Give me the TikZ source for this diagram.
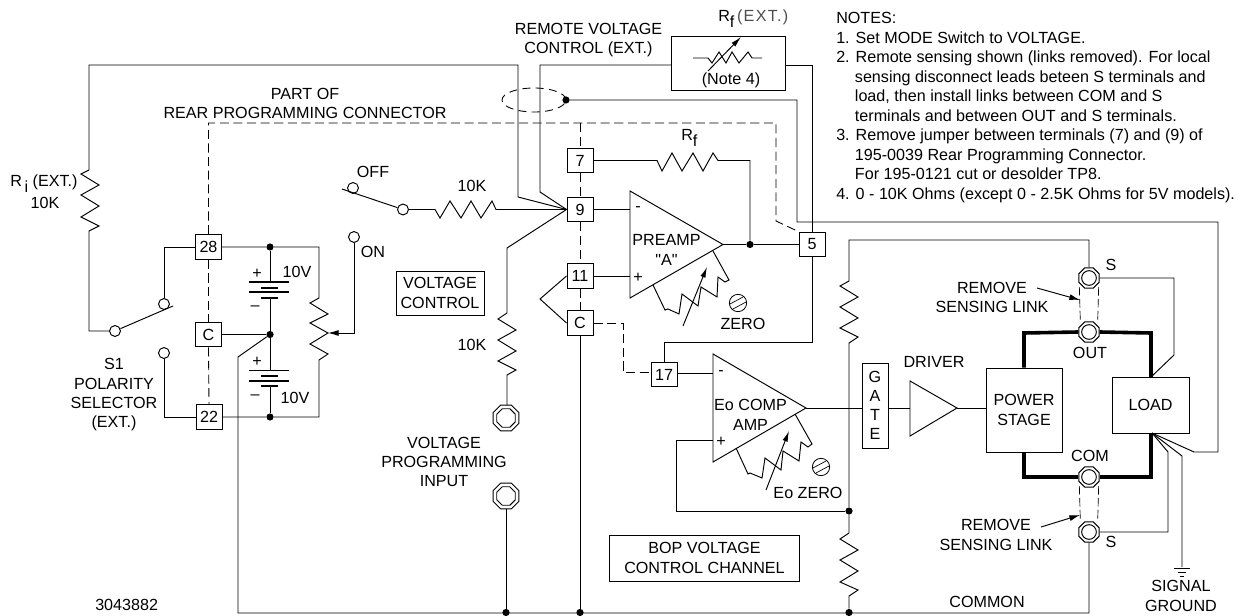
\documentclass[tikz,border=0pt]{standalone}
\usepackage{fontspec}
\setmainfont{Liberation Sans}
\newfontfamily\plainfont{Liberation Sans}
\usetikzlibrary{arrows.meta,shapes.geometric}
\tikzset{
 wire/.style={line width=.72pt,line join=miter},
 heavy/.style={line width=2.7pt,line join=miter},
 dashwire/.style={line width=.65pt,dash pattern=on 6.8pt off 3.4pt},
 dotj/.style={circle,fill=black,inner sep=0pt,minimum size=5.4pt},
 opencontact/.style={circle,draw,fill=white,line width=.72pt,inner sep=0pt,minimum size=8.2pt},
 tbox/.style={draw,fill=white,line width=.72pt,inner sep=0pt,minimum width=19.5pt,minimum height=18.6pt,align=center},
 lbox/.style={draw,fill=white,line width=.72pt,inner sep=0pt,align=center},
 lab/.style={inner sep=0pt,align=center},
 note/.style={inner sep=0pt,anchor=west,align=left},
 jackout/.style={regular polygon,regular polygon sides=8,draw,fill=white,line width=.72pt,inner sep=0pt,minimum size=21pt},
 jackin/.style={regular polygon,regular polygon sides=8,draw,line width=.72pt,inner sep=0pt,minimum size=15pt},
 termout/.style={regular polygon,regular polygon sides=8,draw,fill=white,line width=.72pt,inner sep=0pt,minimum size=16.5pt},
 termin/.style={circle,draw,line width=.72pt,inner sep=0pt,minimum size=11pt},
 screwhead/.style={circle,draw,line width=.6pt,inner sep=0pt,minimum size=13pt},
 ptr/.style={wire,-{Latex[length=8pt,width=4.5pt]}},
 ptrs/.style={wire,-{Latex[length=8pt,width=4pt]}},
}
\begin{document}
\begin{tikzpicture}[x=.75pt,y=-.75pt,font=\fontsize{12.1}{14.5}\selectfont]
\useasboundingbox (0,0) rectangle (1238,616);

% terminal boxes
\node[tbox] (b28) at (208.5,247) {28};
\node[tbox] (bC1) at (208.5,334.5) {C};
\node[tbox] (b22) at (209,417) {22};
\node[tbox] (b7) at (580,160.5) {7};
\node[tbox] (b9) at (580,209.5) {9};
\node[tbox] (b11) at (580,276) {11};
\node[tbox] (bC2) at (580,323) {C};
\node[tbox] (b17) at (664,374.5) {17};
\node[tbox] (b5) at (812,244.5) {5};

% blocks
\node[lbox,minimum width=85.5pt,minimum height=40.5pt] (rfx) at (728,63) {};
\node[lab] (rfxnote) at (731,80) {(Note 4)};
\node[lbox,minimum width=66pt,minimum height=33pt] (vc) at (440,293) {VOLTAGE\\CONTROL};
\node[lbox,minimum width=143pt,minimum height=34.5pt] (bop) at (704.5,558) {BOP VOLTAGE\\CONTROL CHANNEL};
\node[lbox,minimum width=19.5pt,minimum height=63.75pt] (gate) at (875,405.5) {G\\[-.3pt]A\\[-.3pt]T\\[-.3pt]E};
\node[lbox,minimum width=57pt,minimum height=63pt] (power) at (1024,410) {POWER\\STAGE};
\node[lbox,minimum width=57.75pt,minimum height=42pt] (load) at (1150.5,405) {LOAD};

% contacts, junctions
\node[opencontact] (swcom) at (115,331) {};
\node[opencontact] (swa) at (164,304) {};
\node[opencontact] (swb) at (164,353) {};
\node[opencontact] (offc) at (353,188) {};
\node[opencontact] (offp) at (403,209.5) {};
\node[opencontact] (onc) at (354,237) {};
\node[dotj] (d1) at (270,247) {};
\node[dotj] (d2) at (270,334.5) {};
\node[dotj] (d3) at (270,417) {};
\node[dotj] (d4) at (750,244.5) {};
\node[dotj] (d5) at (566,100) {};
\node[dotj] (d6) at (849,511) {};
\node[dotj] (d7) at (506,612.5) {};
\node[dotj] (d8) at (580,612.5) {};
\node[dotj] (d9) at (849,612.5) {};

% jacks and output terminals
\node[jackout] (j1) at (506,418) {}; \node[jackin] (j1i) at (506,418) {};
\node[jackout] (j2) at (506,496) {}; \node[jackin] (j2i) at (506,496) {};
\node[termout] (ts1) at (1089,278) {}; \node[termin] (ts1i) at (1089,278) {};
\node[termout] (tout) at (1089,332) {}; \node[termin] (touti) at (1089,332) {};
\node[termout] (tcom) at (1089,477) {}; \node[termin] (tcomi) at (1089,477) {};
\node[termout] (ts2) at (1089,532) {}; \node[termin] (ts2i) at (1089,532) {};

% screws
\node[screwhead] (scr1) at (738,303) {};
\node[screwhead] (scr2) at (821,467) {};
\draw[line width=.5pt] (scr1) ++(-8,1) -- ++(13,-7) (scr1) ++(-5,6) -- ++(13,-7);
\draw[line width=.5pt] (scr2) ++(-8,1) -- ++(13,-7) (scr2) ++(-5,6) -- ++(13,-7);

% free coordinates
\coordinate (pamin) at (630,209.5);
\coordinate (paplus) at (630,276);
\coordinate (paout) at (723,244.5);
\coordinate (eomin) at (713,373);
\coordinate (eoplus) at (713,440);
\coordinate (eoout) at (806,408);
\coordinate (drin) at (910,408);
\coordinate (drout) at (957,408);
\coordinate (rfl) at (671,65);
\coordinate (rfr) at (785,65);

% op amps and driver
\draw[wire] (630,191) -- (paout) -- (630,298) -- cycle;
\draw[wire] (713,354) -- (eoout) -- (713,462) -- cycle;
\draw[wire] (910,381) -- (drout) -- (910,436) -- cycle;

% Ri path
\draw[wire] (swcom.west) -- (89,331) -- (89,231) -- (99,226) -- (81,217) -- (99,206) -- (81,195) -- (99,185) -- (81,174) -- (89,170) -- (89,65) -- (518,65) -- (518,197) -- (b9.west);
% remote voltage path
\draw[wire] (rfl) -- (540,65) -- (540,192) -- (b9.west);
% rf ext internals
\draw[wire] (693,58) -- (708,58) -- (712,63) -- (719,52) -- (726,63) -- (732,52) -- (739,63) -- (748,52) -- (752,58) -- (762,58);
\coordinate (rfxa) at (708,71); \coordinate (rfxb) at (741,37);
\draw[ptrs] (rfxa) -- (rfxb);
\draw[wire] (rfr) -- (812,65) -- (b5.north);

% polarity switch
\draw[wire] (swcom) -- (173,306);
\draw[wire] (swa.north) -- (164,247) -- (b28.west);
\draw[wire] (swb.south) -- (164,417) -- (b22.west);

% batteries and pot
\draw[wire] (b28.east) -- (d1) -- (319,247) -- (319,298) -- (310,303) -- (328,314) -- (310,323) -- (328,333) -- (310,344) -- (328,354) -- (319,360) -- (319,417) -- (d3) -- (b22.east);
\draw[wire] (d1) -- (270,282);
\draw[wire] (270,298) -- (d2) -- (270,370);
\draw[wire] (270,386) -- (d3);
\draw[line width=1.05pt] (249,282) -- (289,282) (249,292) -- (289,292) (249,370.5) -- (289,370.5) (249,381) -- (289,381);
\draw[line width=1.7pt] (261,288) -- (278,288) (261,298) -- (278,298) (261,376) -- (278,376) (261,386) -- (278,386);
\draw[wire] (bC1.east) -- (d2);
\draw[wire] (d2) -- (238,357) -- (238,613) -- (1089,613) -- (ts2.south);
\draw[ptr] (onc.south) -- (354,333) -- (328,333);

% off switch and input resistor
\draw[wire] (342,189) -- (offp);
\draw[wire] (offp.east) -- (435,209.5) -- (440,218) -- (450,201) -- (461,218) -- (471,201) -- (481,218) -- (492,201) -- (496,209.5) -- (b9.west);
\draw[wire] (b9.west) -- (507,248) -- (507,313) -- (498,319) -- (516,330) -- (498,340) -- (516,351) -- (498,361) -- (516,370) -- (507,375) -- (507,405.5);
\draw[wire] (506,508.5) -- (d7);

% preamp
\draw[wire] (b7.east) -- (657,160.5) -- (662,171) -- (672,153) -- (682,171) -- (693,153) -- (703,171) -- (713,153) -- (718,160.5) -- (750,160.5) -- (d4);
\draw[wire] (b9.east) -- (pamin);
\draw[wire] (b11.east) -- (paplus);
\draw[wire] (paout) -- (d4) -- (b5.west);
\draw[wire] (713,251) -- (729,280) -- (725,282) -- (718,277) -- (717,297) -- (701,287) -- (698,306) -- (682,294) -- (679,314) -- (668,309) -- (665,310) -- (653,285);
\coordinate (pota) at (683,326); \coordinate (potb) at (707,267);
\draw[ptrs] (pota) -- (potb);
\draw[wire] (b11.west) -- (540,299) -- (bC2.west);
\draw[wire] (bC2.south) -- (d8);

% Eo amp
\draw[wire] (b5.south) -- (812,342) -- (664,342) -- (b17.north);
\draw[wire] (b17.east |- eomin) -- (eomin);
\draw[wire] (eoplus) -- (676,440) -- (676,511) -- (d6);
\draw[wire] (eoout) -- (eoout -| gate.west);
\draw[wire] (eoout -| gate.east) -- (drin);
\draw[wire] (drout) -- (drout -| power.west);
\draw[wire] (795,414) -- (812,444) -- (808,447) -- (801,442) -- (799,461) -- (783,451) -- (781,470) -- (765,458) -- (762,478) -- (750,473) -- (748,474) -- (736,448);
\coordinate (eoa) at (766,490); \coordinate (eob) at (789,431);
\draw[ptrs] (eoa) -- (eob);

% right chain
\draw[wire] (ts1.north) -- (1089,240) -- (849,240) -- (849,281) -- (840,286) -- (858,297) -- (840,307) -- (858,318) -- (840,328) -- (858,337) -- (849,343) -- (d6) -- (849,533) -- (840,539) -- (858,550) -- (840,560) -- (858,571) -- (840,582) -- (858,590) -- (849,596) -- (d9);

% heavy loop
\draw[heavy] (power.north) -- (1024,333) -- (tout.west);
\draw[heavy] (tout.east) -- (1151,333) -- (1151,377);
\draw[heavy] (power.south) -- (1024,477) -- (tcom.west);
\draw[heavy] (tcom.east) -- (1151,477) -- (1151,433);

% sensing
\draw[wire] (ts1.east) -- (1174,278) -- (1174,355) -- (1151,377);
\draw[wire] (ts2.east) -- (1168,532) -- (1168,452) -- (1152,433);
\coordinate (gnd) at (1182,567);
\draw[wire] (gnd) -- (1182,456) -- (1152,433);
\draw[wire] (d5) -- (797,100) -- (797,222) -- (1218,222) -- (1218,452) -- (1194,452) -- (1152,433);
\draw[line width=.65pt] (1174,568) -- (1190,568) (1178,572) -- (1186,572) (1180,576) -- (1184,576);

% dashed
\draw[dashwire] (b28.north) -- (208.5,123) -- (776,123) -- (776,221) -- (b5.north west);
\draw[dashwire] (b28.south) -- (bC1.north);
\draw[dashwire] (bC1.south) -- (b22.north);
\draw[dashwire] (580,123) -- (b7.north);
\draw[dashwire] (b7.south) -- (b9.north);
\draw[dashwire] (b9.south) -- (b11.north);
\draw[dashwire] (b11.south) -- (bC2.north);
\draw[dashwire] (bC2.east) -- (623,323) -- (623,372) -- (b17.west |- 623,372);
\node[ellipse,draw,dash pattern=on 6pt off 4pt,line width=.65pt,inner sep=0pt,minimum width=48pt,minimum height=18pt] (cable) at (534,100) {};
\draw[line width=.5pt,dash pattern=on 6.5pt off 2.5pt] (ts1.west) ++(1,9) -- ++(1,36) (ts1.east) ++(-1,9) -- ++(-1,36);
\draw[line width=.5pt,dash pattern=on 6.5pt off 2.5pt] (tcom.west) ++(1,9) -- ++(1,36) (tcom.east) ++(-1,9) -- ++(-1,36);

% sensing link arrows
\coordinate (l1) at (1037,288); \coordinate (l1e) at (1080,300);
\coordinate (l2) at (1041,527); \coordinate (l2e) at (1080,515);
\draw[ptr] (l1) -- (l1e);
\draw[ptr] (l2) -- (l2e);

% labels
\node[lab] (tpart) at (305,103.5) {PART OF\\REAR PROGRAMMING CONNECTOR};
\node[lab] (tremote) at (588.5,40) {REMOTE VOLTAGE\\CONTROL (EXT.)};
\node[lab,anchor=west] (trfx) at (718,19) {R\raisebox{-4.5pt}{f}\,{\color{black!70}\addfontfeature{LetterSpace=8}(EXT.)}};
\node[lab,anchor=west] (tri) at (10,184) {R\,\raisebox{-4.5pt}{i} (EXT.)};
\node[lab] (t10ki) at (45,203) {10K};
\node[lab] (toff) at (373,172) {OFF};
\node[lab] (ton) at (373,252) {ON};
\node[lab] (t10va) at (297,272) {10V};
\node[lab] (t10vb) at (295,398) {10V};
\node[lab] (tpa) at (257,274) {+};
\node[lab] (tma) at (255,308) {--};
\node[lab] (tpb) at (257,362) {+};
\node[lab] (tmb) at (255,397) {--};
\node[lab] (ts1s) at (114,395) {S1\\POLARITY\\SELECTOR\\(EXT.)};
\node[lab] (t10ka) at (472,186) {10K};
\node[lab] (t10kb) at (472,345) {10K};
\node[lab] (tvpi) at (444,462) {VOLTAGE\\PROGRAMMING\\INPUT};
\node[lab,anchor=west] (trf) at (681,138) {R\raisebox{-4.5pt}{f}};
\node[lab] (tpm) at (638,209) {-};
\node[lab] (tpp) at (638,278) {+};
\node[lab] (tpre) at (666.5,250) {PREAMP\\{\plainfont "A"}};
\node[lab] (tzero) at (743,324) {ZERO};
\node[lab] (tem) at (721,373) {-};
\node[lab] (tep) at (721,442) {+};
\node[lab] (teo) at (750.5,415) {Eo COMP\\AMP};
\node[lab] (teoz) at (808,493) {Eo ZERO};
\node[lab] (tdrv) at (934,362) {DRIVER};
\node[lab] (trm1) at (992,297.5) {REMOVE\\SENSING LINK};
\node[lab] (trm2) at (996,535) {REMOVE\\SENSING LINK};
\node[lab] (tss1) at (1111,265) {S};
\node[lab] (tss2) at (1111,542) {S};
\node[lab] (tou) at (1090,353) {OUT};
\node[lab] (tcm) at (1090,456) {COM};
\node[lab] (tcommon) at (987,602) {COMMON};
\node[lab] (tsg) at (1181,596) {SIGNAL\\GROUND};
\node[lab,anchor=west] (tnum) at (95,605) {3043882};

% notes
\node[note,font=\fontsize{12.1}{14.65}\selectfont] (notes) at (836,107.5) {NOTES:\\
1. Set MODE Switch to VOLTAGE.\\
2. Remote sensing shown (links removed). For local\\
\hspace*{14pt}sensing disconnect leads beteen S terminals and\\
\hspace*{14pt}load, then install links between COM and S\\
\hspace*{14pt}terminals and between OUT and S terminals.\\
3. Remove jumper between terminals (7) and (9) of\\
\hspace*{14pt}195-0039 Rear Programming Connector.\\
\hspace*{14pt}For 195-0121 cut or desolder TP8.\\
4. 0 - 10K Ohms (except 0 - 2.5K Ohms for 5V models).};
\end{tikzpicture}
\end{document}
